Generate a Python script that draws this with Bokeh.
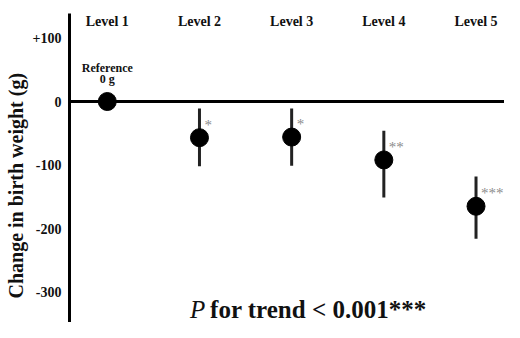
from bokeh.plotting import figure
from bokeh.models import ColumnDataSource, Span, Label, FixedTicker, Range1d, Title
from bokeh.core.properties import value
from bokeh.embed import file_html
from bokeh.resources import INLINE

levels = ["Level 1", "Level 2", "Level 3", "Level 4", "Level 5"]
level_index = [1, 2, 3, 4, 5]
change = [0, -57, -56, -92, -165]
lower = [0, -102, -101, -151, -216]
upper = [0, -11, -11, -46, -118]
stars = ["", "*", "*", "**", "***"]
y_ticks = [100, 0, -100, -200, -300]
y_tick_labels = ["+100", "0", "-100", "-200", "-300"]

SERIF = "'Times New Roman', 'Liberation Serif', serif"

p = figure(width=504, height=322, output_backend="svg", toolbar_location=None,
           x_range=Range1d(0.590, 5.309), y_range=Range1d(-348, 138.6),
           min_border_left=68, min_border_right=0, min_border_top=13, min_border_bottom=0)
p.outline_line_color = None
p.xgrid.visible = False
p.ygrid.visible = False
p.xaxis.visible = False

ya = p.yaxis[0]
ya.ticker = FixedTicker(ticks=y_ticks)
ya.major_label_overrides = {t: l for t, l in zip(y_ticks, y_tick_labels)}
ya.axis_line_width = 3
ya.axis_line_color = "black"
ya.major_tick_out = 0
ya.major_tick_in = 0
ya.minor_tick_out = 0
ya.minor_tick_in = 0
ya.major_label_standoff = 8
ya.major_label_text_font = SERIF
ya.major_label_text_font_style = "bold"
ya.major_label_text_font_size = "14px"
ya.major_label_text_color = "#111"

# y-axis title (left panel title, starting above the frame bottom like the reference)
p.add_layout(Title(text="Change in birth weight (g)", align="left", offset=24,
                   standoff=5, text_font=SERIF, text_font_style="bold",
                   text_font_size="20px", text_color="#111"), "left")

p.add_layout(Span(location=0, dimension="width", line_color="black", line_width=3))

src = ColumnDataSource(dict(x=level_index, y=change, lo=lower, hi=upper,
                            stars=stars, name=levels,
                            top=[p.y_range.end] * len(levels)))

p.segment(x0="x", y0="lo", x1="x", y1="hi", source=src, line_color="#222", line_width=3)
p.scatter(x="x", y="y", source=src, size=18, fill_color="black", line_color="black")

p.text(x="x", y="y", text="stars", source=src, x_offset=5, y_offset=-13,
       text_font=value(SERIF), text_font_size="15px", text_color="#8c8c8c",
       text_align="left", text_baseline="middle")

p.text(x="x", y="top", text="name", source=src, y_offset=8,
       text_font=value(SERIF), text_font_style="bold", text_font_size="14px",
       text_color="#111", text_align="center", text_baseline="middle")

p.add_layout(Label(x=level_index[0], y=change[0], text="Reference", y_offset=34,
                   text_font=SERIF, text_font_style="bold", text_font_size="12px",
                   text_color="#111", text_align="center", text_baseline="middle"))
p.add_layout(Label(x=level_index[0], y=change[0], text="0 g", y_offset=23,
                   text_font=SERIF, text_font_style="bold", text_font_size="12px",
                   text_color="#111", text_align="center", text_baseline="middle"))

p.add_layout(Label(x=1.896, y=-328, text="P", text_font=SERIF, text_font_style="italic",
                   text_font_size="25px", text_color="#111", text_align="left",
                   text_baseline="alphabetic"))
p.add_layout(Label(x=2.115, y=-328, text="for trend < 0.001***", text_font=SERIF,
                   text_font_style="bold", text_font_size="25px", text_color="#111",
                   text_align="left", text_baseline="alphabetic"))

open("out.html", "w").write(file_html(p, INLINE))
